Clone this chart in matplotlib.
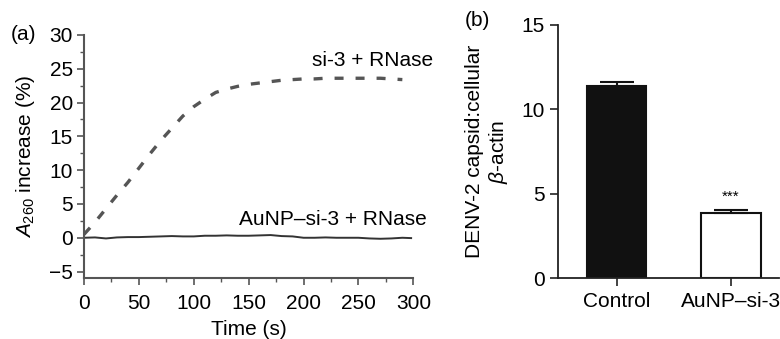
import numpy as np
import matplotlib
matplotlib.use("Agg")
import matplotlib.pyplot as plt
from matplotlib.ticker import MultipleLocator

plt.rcParams['font.family'] = ['Liberation Sans', 'DejaVu Sans']
plt.rcParams['mathtext.fontset'] = 'custom'
plt.rcParams['mathtext.it'] = 'Liberation Sans:italic'
plt.rcParams['mathtext.rm'] = 'Liberation Sans'

# panel (a): A260 increase over time
time_s = [0, 10, 20, 30, 40, 50, 60, 70, 80, 90, 100, 110, 120, 130, 140, 150,
          160, 170, 180, 190, 200, 210, 220, 230, 240, 250, 260, 270, 280, 290]
si3_rnase = [0.5, 2.3, 4.3, 6.3, 8.2, 10.3, 12.4, 14.4, 16.2, 18.0, 19.4, 20.5,
             21.5, 22.0, 22.4, 22.7, 22.9, 23.1, 23.3, 23.4, 23.5, 23.5, 23.6,
             23.6, 23.6, 23.6, 23.6, 23.6, 23.5, 23.4]
time_solid = [0, 10, 20, 30, 40, 50, 60, 70, 80, 90, 100, 110, 120, 130, 140, 150,
              160, 170, 180, 190, 200, 210, 220, 230, 240, 250, 260, 270, 280, 290, 298]
aunp_si3_rnase = [0.0, 0.05, -0.1, 0.05, 0.1, 0.1, 0.15, 0.2, 0.25, 0.2, 0.2, 0.3,
                  0.3, 0.35, 0.3, 0.3, 0.35, 0.4, 0.25, 0.2, 0.0, 0.0, 0.05, 0.0,
                  0.0, 0.0, -0.1, -0.15, -0.1, 0.0, -0.05]

# panel (b): DENV-2 capsid : beta-actin
groups = ['Control', 'AuNP\u2013si-3']
ratio = [11.39, 3.85]
ratio_err = [0.22, 0.2]

fig = plt.figure(figsize=(7.8, 3.39), dpi=100)
fs = 15

# ---- (a)
ax1 = fig.add_axes([0.1077, 0.179, 0.4222, 0.7178])
ax1.plot(time_s, si3_rnase, color='#555555', lw=2.4, dashes=(2.7, 3.6))
ax1.plot(time_solid, aunp_si3_rnase, color='#333333', lw=1.4)
ax1.set_xlim(0, 300)
ax1.set_ylim(-6, 30)
ax1.set_xticks(range(0, 301, 50))
ax1.set_yticks(range(-5, 31, 5))
ax1.xaxis.set_minor_locator(MultipleLocator(25))
ax1.yaxis.set_minor_locator(MultipleLocator(2.5))
ax1.set_yticklabels(['\u22125' if v < 0 else str(v) for v in range(-5, 31, 5)])
for s in ['top', 'right']:
    ax1.spines[s].set_visible(False)
for s in ['left', 'bottom']:
    ax1.spines[s].set_color('#555555')
    ax1.spines[s].set_linewidth(1.5)
ax1.tick_params(which='major', length=5, width=1.2, color='#555555', labelsize=fs)
ax1.tick_params(axis='x', which='major', pad=6)
ax1.tick_params(axis='y', which='major', pad=3)
ax1.tick_params(which='minor', length=3, width=1.0, color='#555555')
ax1.set_xlabel('Time (s)', fontsize=fs, labelpad=5)
ax1.set_ylabel('$A_{260}$ increase (%)', fontsize=fs, labelpad=9)
ax1.text(318, 26.2, 'si-3 + RNase', fontsize=fs, ha='right', va='center', clip_on=False)
ax1.text(312, 2.7, 'AuNP\u2013si-3 + RNase', fontsize=fs, ha='right', va='center', clip_on=False)
fig.text(23 / 780, 1 - 35 / 339, '(a)', fontsize=fs, ha='center', va='center')

# ---- (b)
ax2 = fig.add_axes([0.7158, 0.179, 0.2830, 0.7473])
x = np.arange(len(groups))
ax2.bar(x, ratio, width=0.52, color=['#111111', 'white'], edgecolor='#111111', linewidth=1.5)
ax2.errorbar(x, ratio, yerr=[[0, 0], ratio_err], fmt='none', ecolor='#111111',
             elinewidth=1.5, capsize=12, capthick=1.5)
ax2.text(x[1], ratio[1] + ratio_err[1] + 0.35, '***', fontsize=11, ha='center', va='bottom')
ax2.set_xlim(-0.51, 1.42)
ax2.set_ylim(0, 15)
ax2.set_yticks([0, 5, 10, 15])
ax2.set_xticks(x)
ax2.set_xticklabels(groups)
for s in ['top', 'right']:
    ax2.spines[s].set_visible(False)
for s in ['left', 'bottom']:
    ax2.spines[s].set_color('#222222')
    ax2.spines[s].set_linewidth(1.3)
ax2.tick_params(length=6, width=1.2, color='#222222', labelsize=fs, pad=4)
ax2.set_ylabel('DENV-2 capsid:cellular\n$\\beta$-actin', fontsize=fs, labelpad=8,
               linespacing=1.2)
fig.text(477 / 780, 1 - 20 / 339, '(b)', fontsize=fs, ha='center', va='center')

fig.savefig('out.png', dpi=100)
